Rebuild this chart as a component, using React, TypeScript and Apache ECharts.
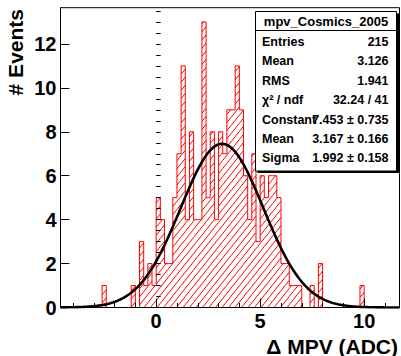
import React, { useEffect, useRef } from "react";
import * as echarts from "echarts";

// ---- data ----
const binStarts = [-2.6, -1.2, -0.8, -0.6, -0.4, -0.2, 0.0, 0.2, 0.4, 0.6, 0.8, 1.0, 1.2, 1.4, 1.6, 1.8, 2.0, 2.2, 2.4, 2.6, 2.8, 3.0, 3.2, 3.4, 3.6, 3.8, 4.0, 4.2, 4.4, 4.6, 4.8, 5.0, 5.2, 5.4, 5.6, 5.8, 6.0, 6.2, 6.4, 6.6, 6.8, 7.4, 7.8, 9.8];
const binCounts = [1, 1, 3, 1, 2, 1, 5, 4, 2, 2, 5, 7, 11, 4, 8, 4, 4, 13, 5, 8, 4, 8, 7, 9, 9, 11, 9, 6, 4, 7, 3, 6, 5, 6, 6, 5, 2, 2, 1, 1, 1, 1, 2, 1];
const binWidth = 0.2;

const xTickLabels = [0, 5, 10];
const xMinorTicks = [-4, -3, -2, -1, 0, 1, 2, 3, 4, 5, 6, 7, 8, 9, 10, 11];
const yTickLabels = [0, 2, 4, 6, 8, 10, 12];
const yMinorTicks = [0, 0.5, 1, 1.5, 2, 2.5, 3, 3.5, 4, 4.5, 5, 5.5, 6, 6.5, 7, 7.5, 8, 8.5, 9, 9.5, 10, 10.5, 11, 11.5, 12, 12.5, 13, 13.5];

const histName = "mpv_Cosmics_2005";
const statNames = ["Entries", "Mean", "RMS", "χ² / ndf", "Constant", "Mean", "Sigma"];
const statValues = ["215", "3.126", "1.941", "32.24 / 41", "7.453 ± 0.735", "3.167 ± 0.166", "1.992 ± 0.158"];

const fitConstant = 7.453;
const fitMean = 3.167;
const fitSigma = 1.992;

const xMin = -4.6;
const xMax = 11.7;
const yMax = 13.65;

const xTitle = "Δ MPV (ADC)";
const yTitle = "# Events";

const FONT = "'Liberation Sans', Arial, Helvetica, sans-serif";
const RED = "#ff0000";

export default function App() {
  const ref = useRef<HTMLDivElement>(null);

  useEffect(() => {
    if (!ref.current) return;
    const chart = echarts.init(ref.current, undefined, { renderer: "svg" });

    const barData = binStarts.map((s, i) => [s, s + binWidth, binCounts[i]]);

    const outline: number[][] = [];
    let prevEnd: number | null = null;
    binStarts.forEach((s, i) => {
      const e = s + binWidth;
      if (prevEnd === null || Math.abs(s - prevEnd) > 1e-6) {
        if (prevEnd !== null) outline.push([prevEnd, 0]);
        outline.push([s, 0]);
      }
      outline.push([s, binCounts[i]], [e, binCounts[i]]);
      prevEnd = e;
    });
    if (prevEnd !== null) outline.push([prevEnd, 0]);

    const fitCurve: number[][] = [];
    for (let x = xMin; x <= xMax + 1e-9; x += 0.05) {
      fitCurve.push([x, fitConstant * Math.exp(-0.5 * ((x - fitMean) / fitSigma) ** 2)]);
    }

    const hatchSpacing = 6.5;
    const hatchSlope = 1.25;

    const boxX = 255.5, boxY = 11.5, boxW = 141, boxH = 159.5;
    const rowY0 = 41.7, rowStep = 19.45;

    const graphics: any[] = [
      { type: "rect", z: 100, shape: { x: boxX + boxW - 0.5, y: boxY + 2, width: 3, height: boxH }, style: { fill: "#000" } },
      { type: "rect", z: 100, shape: { x: boxX + 2, y: boxY + boxH - 0.5, width: boxW + 1, height: 2.5 }, style: { fill: "#000" } },
      { type: "rect", z: 101, shape: { x: boxX, y: boxY, width: boxW, height: boxH }, style: { fill: "#fff", stroke: "#000", lineWidth: 1 } },
      { type: "line", z: 102, shape: { x1: boxX, y1: 30.5, x2: boxX + boxW, y2: 30.5 }, style: { stroke: "#000", lineWidth: 1 } },
      { type: "text", z: 103, x: boxX + boxW / 2, y: 21, style: { text: histName, fill: "#000", font: `bold 13px ${FONT}`, textAlign: "center", textVerticalAlign: "middle" } },
      { type: "text", z: 103, x: 15, y: 9, rotation: Math.PI / 2, style: { text: yTitle, fill: "#000", font: `bold 21px ${FONT}`, textAlign: "right", textVerticalAlign: "middle" } },
      { type: "text", z: 103, x: 398, y: 346, style: { text: xTitle, fill: "#000", font: `bold 21px ${FONT}`, textAlign: "right", textVerticalAlign: "middle" } },
    ];
    statNames.forEach((n, i) => {
      const y = rowY0 + i * rowStep;
      graphics.push({ type: "text", z: 103, x: 262, y, style: { text: n, fill: "#000", font: `bold 12.5px ${FONT}`, textAlign: "left", textVerticalAlign: "middle" } });
      graphics.push({ type: "text", z: 104, x: 388.5, y, style: { text: statValues[i], fill: "#000", font: `bold 12.5px ${FONT}`, textAlign: "right", textVerticalAlign: "middle" } });
    });

    chart.setOption({
      animation: false,
      textStyle: { fontFamily: FONT },
      grid: { left: 60.5, right: 1.5, top: 7.7, bottom: 48.5, show: true, borderColor: "#000", borderWidth: 1, backgroundColor: "#fff" },
      xAxis: [
        {
          type: "value", min: xMin, max: xMax, z: 10,
          axisLine: { show: true, onZero: false, lineStyle: { color: "#000", width: 1 } },
          axisTick: { show: true, inside: true, length: 9, customValues: xTickLabels, lineStyle: { color: "#000" } },
          axisLabel: { show: true, customValues: xTickLabels, color: "#000", fontSize: 20, fontWeight: "bold", margin: 3, fontFamily: FONT },
          splitLine: { show: false },
        },
        {
          type: "value", min: xMin, max: xMax, position: "bottom", offset: 0, z: 10,
          axisLine: { show: false },
          axisTick: { show: true, inside: true, length: 4.5, customValues: xMinorTicks, lineStyle: { color: "#000" } },
          axisLabel: { show: false },
          splitLine: { show: false },
        },
      ],
      yAxis: [
        {
          type: "value", min: 0, max: yMax, z: 10,
          axisLine: { show: true, onZero: false, lineStyle: { color: "#000", width: 1 } },
          axisTick: { show: true, inside: true, length: 9, customValues: yTickLabels, lineStyle: { color: "#000" } },
          axisLabel: { show: true, customValues: yTickLabels, color: "#000", fontSize: 20, fontWeight: "bold", margin: 4, fontFamily: FONT },
          splitLine: { show: false },
        },
        {
          type: "value", min: 0, max: yMax, position: "left", offset: 0, z: 10,
          axisLine: { show: false },
          axisTick: { show: true, inside: true, length: 4.5, customValues: yMinorTicks, lineStyle: { color: "#000" } },
          axisLabel: { show: false },
          splitLine: { show: false },
        },
      ],
      series: [
        {
          type: "custom",
          z: 2,
          xAxisIndex: 0, yAxisIndex: 0,
          data: barData,
          encode: { x: [0, 1], y: 2 },
          renderItem: (params: any, api: any) => {
            const x0 = api.value(0), x1 = api.value(1), c = api.value(2);
            const tl = api.coord([x0, c]);
            const br = api.coord([x1, 0]);
            const xa = tl[0], ya = tl[1], xb = br[0], yb = br[1];
            const m = hatchSlope, sp = hatchSpacing;
            const uMin = xa + ya / m, uMax = xb + yb / m;
            const children: any[] = [];
            for (let k = Math.ceil(uMin / sp); k * sp <= uMax; k++) {
              const u = k * sp;
              const y1 = Math.max(ya, m * (u - xb));
              const y2 = Math.min(yb, m * (u - xa));
              if (y2 > y1) {
                children.push({ type: "line", shape: { x1: u - y1 / m, y1, x2: u - y2 / m, y2 }, style: { stroke: RED, lineWidth: 1 } });
              }
            }
            return { type: "group", children };
          },
        },
        {
          type: "line", z: 3, xAxisIndex: 0, yAxisIndex: 0,
          data: outline, symbol: "none", showSymbol: false,
          lineStyle: { color: RED, width: 1 },
        },
        {
          type: "line", z: 4, xAxisIndex: 0, yAxisIndex: 0,
          data: fitCurve, symbol: "none", showSymbol: false, smooth: false,
          lineStyle: { color: "#000", width: 2.6 },
        },
      ],
      graphic: graphics,
    });

    return () => chart.dispose();
  }, []);

  return <div ref={ref} style={{ position: "fixed", left: 0, top: 0, width: 401, height: 356, background: "#fff" }} />;
}
